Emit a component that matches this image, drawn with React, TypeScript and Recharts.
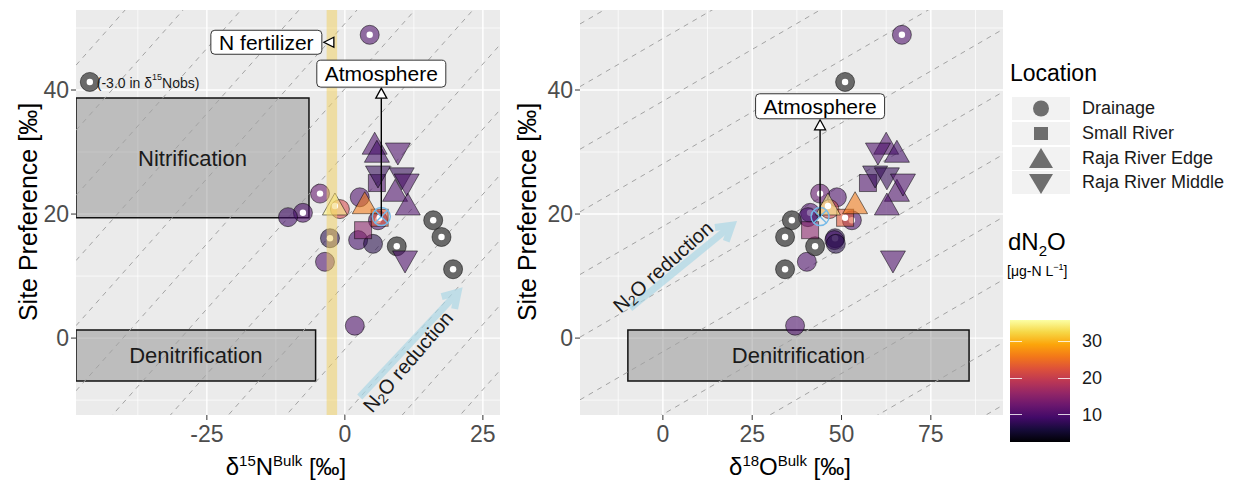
import React from "react";
import {
  ScatterChart,
  Scatter,
  XAxis,
  YAxis,
  CartesianGrid,
  ReferenceArea,
  ReferenceLine,
  ReferenceDot,
} from "recharts";

// n = d15N bulk, o = d18O bulk, sp = site preference, c = dN2O (null = NA)
type Pt = { n: number; o: number; sp: number; c: number | null; dot?: boolean };

const drainage: Pt[] = [
  { n: 4.5, o: 66.9, sp: 48.9, c: 10, dot: true },
  { n: -46.2, o: 51.0, sp: 41.3, c: null, dot: true },
  { n: 2.7, o: 48.7, sp: 22.7, c: 10 },
  { n: -4.5, o: 44.0, sp: 23.3, c: 12, dot: true },
  { n: -0.9, o: 46.6, sp: 20.8, c: 21 },
  { n: -7.6, o: 41.2, sp: 20.2, c: 10, dot: true },
  { n: -10.3, o: 40.6, sp: 19.5, c: 9 },
  { n: 6.0, o: 52.9, sp: 19.0, c: 10, dot: true },
  { n: -2.7, o: 48.2, sp: 16.1, c: 7, dot: true },
  { n: 2.4, o: 48.0, sp: 15.8, c: 9 },
  { n: 5.1, o: 48.4, sp: 15.2, c: 7 },
  { n: -3.6, o: 40.3, sp: 12.3, c: 10 },
  { n: 1.8, o: 37.0, sp: 2.0, c: 10 },
  { n: 16.0, o: 36.1, sp: 19.0, c: null, dot: true },
  { n: 17.5, o: 34.2, sp: 16.3, c: null, dot: true },
  { n: 9.4, o: 42.6, sp: 14.8, c: null, dot: true },
  { n: 19.6, o: 34.2, sp: 11.1, c: null, dot: true },
];
const smallRiver: Pt[] = [
  { n: 5.8, o: 57.4, sp: 25.0, c: 10 },
  { n: 3.3, o: 41.2, sp: 17.4, c: 15 },
  { n: 6.3, o: 51.0, sp: 19.4, c: 23, dot: true },
];
const rajaEdge: Pt[] = [
  { n: 5.4, o: 62.5, sp: 31.1, c: 10 },
  { n: 5.8, o: 65.5, sp: 29.8, c: 9 },
  { n: 9.1, o: 65.5, sp: 23.5, c: 10 },
  { n: 11.4, o: 62.7, sp: 21.3, c: 10 },
  { n: 3.6, o: 53.8, sp: 21.5, c: 26 },
  { n: -1.8, o: 46.2, sp: 21.3, c: 35, dot: true },
];
const rajaMiddle: Pt[] = [
  { n: 9.6, o: 60.2, sp: 30.0, c: 10 },
  { n: 6.0, o: 59.4, sp: 26.3, c: 8 },
  { n: 10.3, o: 62.7, sp: 26.0, c: 8 },
  { n: 11.2, o: 67.2, sp: 25.0, c: 10 },
  { n: 10.9, o: 64.4, sp: 12.6, c: 10 },
];
const atmosphere = [{ n: 6.6, o: 44.0, sp: 19.6 }];

const locations = ["Drainage", "Small River", "Raja River Edge", "Raja River Middle"];
const locationShapes = ["circle", "square", "up", "down"];

const spDomain = [-12.4, 52.9];
const spTicks = [0, 20, 40];
const spMinor = [-10, 10, 30, 50];
const nDomain = [-48.7, 28.1];
const nTicks = [-25, 0, 25];
const nMinor = [-37.5, -12.5, 12.5];
const oDomain = [-23.2, 95.2];
const oTicks = [0, 25, 50, 75];
const oMinor = [-12.5, 12.5, 37.5, 62.5, 87.5];

const cRange = [2.6, 35.8];
const colorTicks = [10, 20, 30];

// dashed guide lines: sp = slope * x + b
const nGuideSlope = 1;
const nGuideIntercepts = [-33.3, -22.8, -12.3, -1.8, 8.7, 19.2, 29.7, 40.2, 50.7, 61.2, 71.7, 82.2, 92.7];
const oGuideSlope = 0.334;
const oGuideIntercepts = [-42.6, -32.5, -22.4, -12.3, -2.2, 7.9, 18.0, 28.1, 38.2, 48.3, 58.4];

const nitrificationN = { x: [-48.7, -6.5], sp: [19.4, 38.7] };
const denitrificationN = { x: [-48.7, -5.3], sp: [-6.9, 1.3] };
const denitrificationO = { x: [-9.8, 85.7], sp: [-6.9, 1.3] };
const fertilizerBand = [-3.3, -1.4];
const fertilizerMark = { n: -2.9, sp: 47.7 };
const atmArrowN = { x: 6.6, sp: [19.6, 40.3] };
const atmArrowO = { x: 44.0, sp: [19.6, 35.2] };
const reductionN = [{ x: 2.7, y: -9.5 }, { x: 20.5, y: 7.4 }];
const reductionO = [{ x: -9.2, y: 4.8 }, { x: 19.3, y: 18.2 }];

const FONT = '"Liberation Sans", Arial, Helvetica, sans-serif';

const infernoStops = [
  "#000004", "#160b39", "#420a68", "#6a176e", "#932667", "#bc3754",
  "#dd513a", "#f37819", "#fca50a", "#f6d746", "#fcffa4",
];

function inferno(t: number) {
  const u = Math.max(0, Math.min(1, t)) * (infernoStops.length - 1);
  const i = Math.min(Math.floor(u), infernoStops.length - 2);
  const f = u - i;
  const a = infernoStops[i], b = infernoStops[i + 1];
  const ch = (s: string, k: number) => parseInt(s.slice(1 + 2 * k, 3 + 2 * k), 16);
  const out = [0, 1, 2].map((k) => Math.round(ch(a, k) + (ch(b, k) - ch(a, k)) * f));
  return `rgb(${out.join(",")})`;
}

function marker(kind: string) {
  return (props: any) => {
    const { cx, cy, payload } = props;
    if (cx == null || cy == null) return <g />;
    const na = payload.c == null;
    const fill = na ? "#444" : inferno((payload.c - cRange[0]) / (cRange[1] - cRange[0]));
    const st = { fill, fillOpacity: na ? 0.78 : 0.58, stroke: "#000", strokeOpacity: 0.5, strokeWidth: 1 };
    let body;
    if (kind === "circle") body = <circle cx={cx} cy={cy} r={9.5} {...st} />;
    else if (kind === "square") body = <rect x={cx - 8.5} y={cy - 8.5} width={17} height={17} {...st} />;
    else if (kind === "up")
      body = <polygon points={`${cx},${cy - 13} ${cx - 12.5},${cy + 9} ${cx + 12.5},${cy + 9}`} {...st} />;
    else body = <polygon points={`${cx - 12.5},${cy - 9} ${cx + 12.5},${cy - 9} ${cx},${cy + 13}`} {...st} />;
    return (
      <g>
        {body}
        {payload.dot && <circle cx={cx} cy={cy} r={3.2} fill="#fff" />}
      </g>
    );
  };
}

const atmMarker = (props: any) => {
  const { cx, cy } = props;
  if (cx == null) return <g />;
  const d = 6.4;
  return (
    <g stroke="#74b9e8" strokeWidth={1.4} fill="none">
      <circle cx={cx} cy={cy} r={9} />
      <line x1={cx - d} y1={cy - d} x2={cx + d} y2={cy + d} />
      <line x1={cx - d} y1={cy + d} x2={cx + d} y2={cy - d} />
    </g>
  );
};

const atmShape = (label: string, h: number) => (p: any) => {
  const { x1, y1, x2, y2 } = p;
  const w = 129;
  return (
    <g>
      <line x1={x1} y1={y1} x2={x2} y2={y2 + 10} stroke="#000" strokeWidth={1.4} />
      <polygon points={`${x2},${y2} ${x2 - 5.5},${y2 + 10} ${x2 + 5.5},${y2 + 10}`} fill="#fff" stroke="#000" strokeWidth={1.3} />
      <rect x={x2 - w / 2} y={y2 - 1 - h} width={w} height={h} rx={4} fill="#fff" stroke="#333" strokeWidth={1} />
      <text x={x2} y={y2 - 1 - h / 2} textAnchor="middle" dominantBaseline="central" fontSize={21} fill="#000" fontFamily={FONT}>
        {label}
      </text>
    </g>
  );
};

const fertilizerShape = (p: any) => {
  const { cx, cy } = p;
  const w = 111, h = 24;
  return (
    <g>
      <polygon points={`${cx - 5},${cy} ${cx + 5},${cy - 5} ${cx + 5},${cy + 5}`} fill="#fff" stroke="#000" strokeWidth={1.3} />
      <rect x={cx - 7 - w} y={cy - h / 2} width={w} height={h} rx={4} fill="#fff" stroke="#333" strokeWidth={1} />
      <text x={cx - 7 - w / 2} y={cy} textAnchor="middle" dominantBaseline="central" fontSize={21} fill="#000" fontFamily={FONT}>
        N fertilizer
      </text>
    </g>
  );
};

const reductionShape = (dx: number, dy: number) => (p: any) => {
  const { x1, y1, x2, y2 } = p;
  const ang = Math.atan2(y2 - y1, x2 - x1);
  const head = 17;
  const w1 = `${x2 - head * Math.cos(ang - 0.55)},${y2 - head * Math.sin(ang - 0.55)}`;
  const w2 = `${x2 - head * Math.cos(ang + 0.55)},${y2 - head * Math.sin(ang + 0.55)}`;
  const mx = (x1 + x2) / 2 + dx;
  const my = (y1 + y2) / 2 + dy;
  const deg = (ang * 180) / Math.PI - 2.5;
  return (
    <g>
      <g opacity={0.7} stroke="#add8e6" strokeWidth={7} fill="none">
        <line x1={x1} y1={y1} x2={x2 - 3 * Math.cos(ang)} y2={y2 - 3 * Math.sin(ang)} />
        <polyline points={`${w1} ${x2},${y2} ${w2}`} strokeLinejoin="miter" />
      </g>
      <text transform={`translate(${mx},${my}) rotate(${deg})`} textAnchor="middle" dominantBaseline="central" fontSize={20} fill="#1a1a1a" fontFamily={FONT}>
        N<tspan fontSize={14} dy={5}>2</tspan>
        <tspan dy={-5}>O reduction</tspan>
      </text>
    </g>
  );
};

const tickStyle = { fill: "#4d4d4d", fontSize: 23, fontFamily: FONT };
const boxLabel = (value: string) => ({ value, position: "center" as const, fontSize: 22, fill: "#1a1a1a", fontFamily: FONT });

function guides(slope: number, intercepts: number[], dom: number[]) {
  return intercepts.map((b) => (
    <ReferenceLine
      key={`g${b}`}
      segment={[
        { x: dom[0], y: slope * dom[0] + b },
        { x: dom[1], y: slope * dom[1] + b },
      ]}
      stroke="#a3a3a3"
      strokeDasharray="5 5"
      strokeWidth={1}
      ifOverflow="hidden"
    />
  ));
}

function series(xKey: string) {
  return [
    <Scatter key="d" name="Drainage" data={drainage} dataKey="sp" shape={marker("circle")} isAnimationActive={false} />,
    <Scatter key="s" name="Small River" data={smallRiver} dataKey="sp" shape={marker("square")} isAnimationActive={false} />,
    <Scatter key="e" name="Raja River Edge" data={rajaEdge} dataKey="sp" shape={marker("up")} isAnimationActive={false} />,
    <Scatter key="m" name="Raja River Middle" data={rajaMiddle} dataKey="sp" shape={marker("down")} isAnimationActive={false} />,
    <Scatter key={`a${xKey}`} name="Atmosphere" data={atmosphere} dataKey="sp" shape={atmMarker} isAnimationActive={false} />,
  ];
}

function Panel({ xKey, dom, ticks, minor, width, yWidth, children }: any) {
  return (
    <ScatterChart width={width} height={486} margin={{ top: 10, right: 10, bottom: 41, left: 0 }}>
      <CartesianGrid fill="#ebebeb" stroke="#ffffff" strokeWidth={0.7} horizontalValues={spMinor} verticalValues={minor} />
      <CartesianGrid stroke="#ffffff" strokeWidth={1.4} horizontalValues={spTicks} verticalValues={ticks} />
      <XAxis type="number" dataKey={xKey} domain={dom} ticks={ticks} interval={0} allowDataOverflow
        axisLine={false} tickLine={{ stroke: "#333" }} tickSize={5} tickMargin={6} height={30} tick={tickStyle} />
      <YAxis type="number" dataKey="sp" domain={spDomain} ticks={spTicks} interval={0} allowDataOverflow
        axisLine={false} tickLine={{ stroke: "#333" }} tickSize={5} tickMargin={2} width={yWidth} tick={tickStyle} />
      {children}
    </ScatterChart>
  );
}

function KeyIcon({ kind }: { kind: string }) {
  const c = "#6e6e6e";
  return (
    <svg width={58} height={23}>
      {kind === "circle" && <circle cx={29} cy={11.5} r={8} fill={c} />}
      {kind === "square" && <rect x={22} y={5} width={14} height={13} fill={c} />}
      {kind === "up" && <polygon points="29,1 17,21 41,21" fill={c} />}
      {kind === "down" && <polygon points="17,3 41,3 29,23" fill={c} />}
    </svg>
  );
}

export default function App() {
  const cbTop = 320, cbH = 122;
  const cbY = (v: number) => cbTop + cbH - ((v - cRange[0]) / (cRange[1] - cRange[0])) * cbH;
  const grad = `linear-gradient(to top, ${infernoStops.join(", ")})`;
  return (
    <div style={{ position: "absolute", left: 0, top: 0, width: 1234, height: 486, overflow: "hidden", background: "#fff", fontFamily: FONT }}>
      <div style={{ position: "absolute", left: 0, top: 0 }}>
        <Panel xKey="n" dom={nDomain} ticks={nTicks} minor={nMinor} width={510} yWidth={76}>
          {guides(nGuideSlope, nGuideIntercepts, nDomain)}
          <ReferenceArea x1={nitrificationN.x[0]} x2={nitrificationN.x[1]} y1={nitrificationN.sp[0]} y2={nitrificationN.sp[1]}
            fill="#7f7f7f" fillOpacity={0.42} stroke="#111" strokeWidth={1.5} ifOverflow="hidden" label={boxLabel("Nitrification")} />
          <ReferenceArea x1={denitrificationN.x[0]} x2={denitrificationN.x[1]} y1={denitrificationN.sp[0]} y2={denitrificationN.sp[1]}
            fill="#7f7f7f" fillOpacity={0.42} stroke="#111" strokeWidth={1.5} ifOverflow="hidden" label={boxLabel("Denitrification")} />
          {series("n")}
          <ReferenceArea x1={fertilizerBand[0]} x2={fertilizerBand[1]} fill="#f2cf5b" fillOpacity={0.5} stroke="none" ifOverflow="hidden" zIndex={700} />
          <ReferenceLine segment={reductionN} shape={reductionShape(-1, 17)} ifOverflow="visible" zIndex={800} />
          <ReferenceLine segment={[{ x: atmArrowN.x, y: atmArrowN.sp[0] }, { x: atmArrowN.x, y: atmArrowN.sp[1] }]}
            shape={atmShape("Atmosphere", 27)} ifOverflow="visible" zIndex={800} />
          <ReferenceDot x={fertilizerMark.n} y={fertilizerMark.sp} shape={fertilizerShape} ifOverflow="visible" zIndex={800} />
          <ReferenceDot x={-46.2} y={41.3} ifOverflow="visible" zIndex={800}
            shape={(p: any) => (
              <text x={p.cx + 7} y={p.cy + 1} dominantBaseline="central" fontSize={14} fill="#1a1a1a" fontFamily={FONT}>
                (-3.0 in δ<tspan fontSize={9} dy={-6}>15</tspan><tspan dy={6}>Nobs)</tspan>
              </text>
            )} />
        </Panel>
      </div>
      <div style={{ position: "absolute", left: 505, top: 0 }}>
        <Panel xKey="o" dom={oDomain} ticks={oTicks} minor={oMinor} width={508} yWidth={75}>
          {guides(oGuideSlope, oGuideIntercepts, oDomain)}
          <ReferenceArea x1={denitrificationO.x[0]} x2={denitrificationO.x[1]} y1={denitrificationO.sp[0]} y2={denitrificationO.sp[1]}
            fill="#7f7f7f" fillOpacity={0.42} stroke="#111" strokeWidth={1.5} ifOverflow="hidden" label={boxLabel("Denitrification")} />
          {series("o")}
          <ReferenceLine segment={reductionO} shape={reductionShape(-18, 0)} ifOverflow="visible" zIndex={800} />
          <ReferenceLine segment={[{ x: atmArrowO.x, y: atmArrowO.sp[0] }, { x: atmArrowO.x, y: atmArrowO.sp[1] }]}
            shape={atmShape("Atmosphere", 25)} ifOverflow="visible" zIndex={800} />
        </Panel>
      </div>

      {/* axis titles */}
      <div style={{ position: "absolute", left: 28, top: 212, transform: "translate(-50%,-50%) rotate(-90deg)", fontSize: 25, color: "#000", whiteSpace: "nowrap" }}>
        Site Preference [‰]
      </div>
      <div style={{ position: "absolute", left: 527, top: 212, transform: "translate(-50%,-50%) rotate(-90deg)", fontSize: 25, color: "#000", whiteSpace: "nowrap" }}>
        Site Preference [‰]
      </div>
      <div style={{ position: "absolute", left: 286, top: 466, transform: "translate(-50%,-50%)", fontSize: 24, whiteSpace: "nowrap" }}>
        δ<sup style={{ fontSize: 15 }}>15</sup>N<sup style={{ fontSize: 15 }}>Bulk</sup> [‰]
      </div>
      <div style={{ position: "absolute", left: 790, top: 466, transform: "translate(-50%,-50%)", fontSize: 24, whiteSpace: "nowrap" }}>
        δ<sup style={{ fontSize: 15 }}>18</sup>O<sup style={{ fontSize: 15 }}>Bulk</sup> [‰]
      </div>

      {/* legends */}
      <div style={{ position: "absolute", left: 1010, top: 60, fontSize: 23, whiteSpace: "nowrap" }}>Location</div>
      {locations.map((name, i) => (
        <div key={name} style={{ position: "absolute", left: 1012, top: 97 + i * 24.8, height: 23, display: "flex", alignItems: "center", whiteSpace: "nowrap" }}>
          <div style={{ width: 58, height: 23, background: "#f2f2f2" }}>
            <KeyIcon kind={locationShapes[i]} />
          </div>
          <span style={{ marginLeft: 12, fontSize: 18, color: "#1a1a1a" }}>{name}</span>
        </div>
      ))}
      <div style={{ position: "absolute", left: 1008, top: 228, fontSize: 24, whiteSpace: "nowrap" }}>
        dN<sub style={{ fontSize: 15 }}>2</sub>O
      </div>
      <div style={{ position: "absolute", left: 1007, top: 262, fontSize: 14, whiteSpace: "nowrap" }}>
        [μg-N L<sup style={{ fontSize: 9 }}>−1</sup>]
      </div>
      <div style={{ position: "absolute", left: 1010, top: cbTop, width: 60, height: cbH, background: grad }} />
      {colorTicks.map((v) => (
        <React.Fragment key={v}>
          <div style={{ position: "absolute", left: 1010, top: cbY(v) - 0.5, width: 12, height: 1, background: "#fff", opacity: 0.8 }} />
          <div style={{ position: "absolute", left: 1058, top: cbY(v) - 0.5, width: 12, height: 1, background: "#fff", opacity: 0.8 }} />
          <div style={{ position: "absolute", left: 1082, top: cbY(v), transform: "translateY(-50%)", fontSize: 18, color: "#1a1a1a" }}>{v}</div>
        </React.Fragment>
      ))}
    </div>
  );
}
